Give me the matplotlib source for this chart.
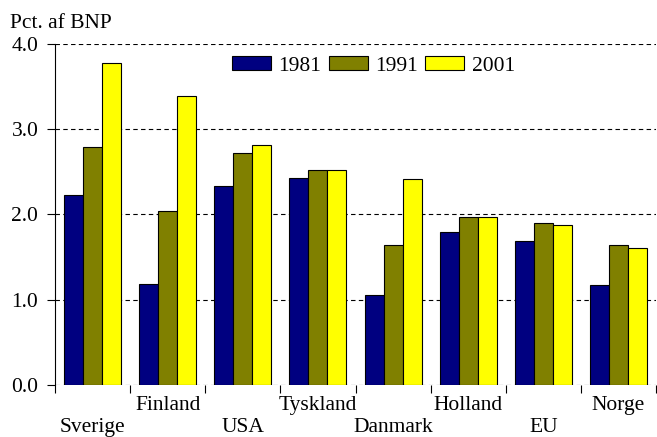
import numpy as np
import matplotlib
matplotlib.use("Agg")
import matplotlib.pyplot as plt
from matplotlib.transforms import blended_transform_factory, offset_copy

countries = ["Sverige", "Finland", "USA", "Tyskland", "Danmark", "Holland", "EU", "Norge"]
years = ["1981", "1991", "2001"]
v1981 = [2.23, 1.18, 2.34, 2.43, 1.05, 1.79, 1.69, 1.17]
v1991 = [2.79, 2.04, 2.72, 2.52, 1.64, 1.97, 1.90, 1.64]
v2001 = [3.78, 3.39, 2.82, 2.52, 2.42, 1.97, 1.88, 1.61]
colors = ["#000080", "#808000", "#FFFF00"]

plt.rcParams["font.family"] = ["Liberation Serif", "DejaVu Serif"]

fig = plt.figure(figsize=(6.57, 4.37), dpi=100)
ax = fig.add_axes([55 / 657, 52 / 437, 601 / 657, 341 / 437])

x = np.arange(len(countries))
w = 0.253
for i, (vals, c, lab) in enumerate(zip([v1981, v1991, v2001], colors, years)):
    ax.bar(x + (i - 1) * w, vals, w, color=c, edgecolor="black", linewidth=0.8,
           label=lab, zorder=3)

ax.set_xlim(-0.5, len(countries) - 0.5)
ax.set_ylim(0, 4)
ax.set_yticks([0, 1, 2, 3, 4])
ax.set_yticklabels(["0.0", "1.0", "2.0", "3.0", "4.0"], fontsize=15.5)
for y in [0, 1, 2, 3, 4]:
    ax.axhline(y, color="black", linestyle=(0, (4, 3)), linewidth=0.8, zorder=1)

ax.set_xticks(np.arange(len(countries) + 1) - 0.5)
ax.set_xticklabels([])
ax.tick_params(axis="x", direction="out", length=6, width=0.8)
ax.tick_params(axis="y", direction="out", length=6, width=0.8, pad=6)

for s in ["top", "right", "bottom"]:
    ax.spines[s].set_visible(False)
ax.spines["left"].set_linewidth(0.8)

trans = blended_transform_factory(ax.transData, ax.transAxes)
for i, name in enumerate(countries):
    dy = -11 if i % 2 == 1 else -33
    t = offset_copy(trans, fig=fig, x=0, y=dy * 0.72, units="points")
    ax.text(i, 0, name, transform=t, ha="center", va="top", fontsize=15.5)

fig.text(10 / 657, 1 - 28 / 437, "Pct. af BNP", fontsize=15.5, ha="left", va="baseline")

ax.legend(loc="center", bbox_to_anchor=(0.53, 0.935), ncol=3, frameon=False,
          fontsize=15.5, handlelength=1.8, handleheight=0.6, handletextpad=0.35,
          columnspacing=0.35, borderaxespad=0.0, borderpad=0.0)

fig.savefig("out.png", dpi=100)
